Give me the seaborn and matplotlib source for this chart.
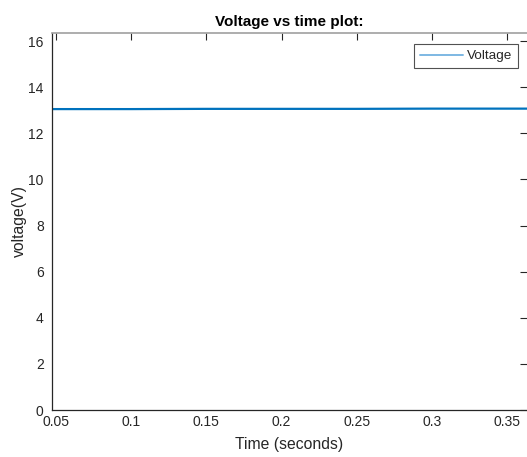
import matplotlib
matplotlib.use("Agg")
import matplotlib.pyplot as plt
import matplotlib.ticker as mticker
import pandas as pd
import seaborn as sns

# data (almost flat voltage trace)
time_s = [0.0473, 0.10, 0.15, 0.20, 0.25, 0.30, 0.3633]
voltage = [13.05, 13.05, 13.06, 13.06, 13.06, 13.07, 13.07]
x_ticks = [0.05, 0.10, 0.15, 0.20, 0.25, 0.30, 0.35]
y_ticks = [0, 2, 4, 6, 8, 10, 12, 14, 16]

sns.set_style("white")
plt.rcParams['font.family'] = ['Liberation Sans', 'DejaVu Sans']

df = pd.DataFrame({'Time': time_s, 'Voltage': voltage})

fig = plt.figure(figsize=(5.27, 4.57), dpi=100)
ax = fig.add_axes([0.0987, 0.1028, 0.9013, 0.825])

sns.lineplot(data=df, x='Time', y='Voltage', ax=ax, color='#0072BD',
             linewidth=1.6, label='Voltage')

ax.set_xlim(0.0473, 0.3633)
ax.set_ylim(0, 16.35)
ax.set_xticks(x_ticks)
ax.set_yticks(y_ticks)
ax.xaxis.set_major_formatter(mticker.FormatStrFormatter('%g'))

ax.tick_params(direction='in', length=5, width=0.8, colors='#262626',
               labelsize=10, top=True, right=True, labelcolor='#262626')
ax.tick_params(axis='x', pad=3.5)
ax.tick_params(axis='y', pad=6)

for side in ['left', 'bottom']:
    ax.spines[side].set_color('#262626')
    ax.spines[side].set_linewidth(0.9)
ax.spines['top'].set_color('#a0a0a0')
ax.spines['top'].set_linewidth(1.2)
# right border falls off the picture edge
ax.spines['right'].set_visible(False)

ax.set_xlabel('Time (seconds)', fontsize=11.3, color='#262626', labelpad=6)
ax.set_ylabel('voltage(V)', fontsize=11.3, color='#262626', labelpad=1)
ax.set_title('Voltage vs time plot:', fontsize=11, fontweight='bold',
             color='black', pad=5)

leg = ax.legend(loc='upper right', fontsize=9.7, frameon=True, fancybox=False,
                borderpad=0.45, handlelength=3.2, handletextpad=0.25,
                borderaxespad=0, bbox_to_anchor=(0.981, 0.971))
leg.get_frame().set_edgecolor('#262626')
leg.get_frame().set_linewidth(0.8)
for line in leg.get_lines():
    line.set_color('#7db8e3')
    line.set_linewidth(1.4)

plt.savefig('out.png', dpi=100)
